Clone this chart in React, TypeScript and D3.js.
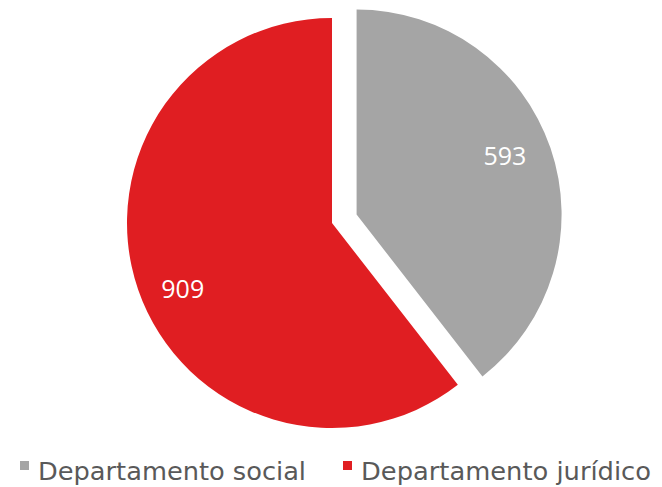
import React from "react";
import * as d3 from "d3";

const categories = ["Departamento social", "Departamento jurídico"];
const values = [593, 909];
const colors = ["#A5A5A5", "#E01E22"];
const explode = [26, 0];
const labelNudge = [
  [-3, -8],
  [2, 13],
];

export default function App() {
  const width = 662;
  const height = 487;
  const cx = 332;
  const cy = 223;
  const r = 205;
  const pie = d3.pie<number>().sort(null).value((d) => d)(values);
  const arc = d3.arc<d3.PieArcDatum<number>>().innerRadius(0).outerRadius(r);
  const labelArc = d3.arc<d3.PieArcDatum<number>>().innerRadius(r * 0.78).outerRadius(r * 0.78);
  const legendX = [20, 343];
  const legendTextLen = [268, 290];
  return (
    <svg width={width} height={height} style={{ position: "absolute", left: 0, top: 0, background: "#fff" }}>
      <g transform={`translate(${cx},${cy})`}>
        {pie.map((p, i) => {
          const mid = (p.startAngle + p.endAngle) / 2;
          const dx = Math.sin(mid) * explode[i];
          const dy = -Math.cos(mid) * explode[i];
          const [lx, ly] = labelArc.centroid(p);
          return (
            <g key={i} transform={`translate(${dx},${dy})`}>
              <path d={arc(p) || ""} fill={colors[i]} />
              <text
                x={lx + labelNudge[i][0]}
                y={ly + labelNudge[i][1]}
                textAnchor="middle"
                dominantBaseline="central"
                fill="#fff"
                fontFamily="'Open Sans', 'Noto Sans', sans-serif"
                fontSize={25}
              >
                {values[i]}
              </text>
            </g>
          );
        })}
      </g>
      {categories.map((c, i) => (
        <g key={c}>
          <rect x={legendX[i]} y={461} width={9} height={9} fill={colors[i]} />
          <text
            x={legendX[i] + 18}
            y={480}
            fill="#595959"
            fontFamily="'DejaVu Sans', sans-serif"
            fontSize={24}
            textLength={legendTextLen[i]}
            lengthAdjust="spacingAndGlyphs"
          >
            {c}
          </text>
        </g>
      ))}
    </svg>
  );
}
